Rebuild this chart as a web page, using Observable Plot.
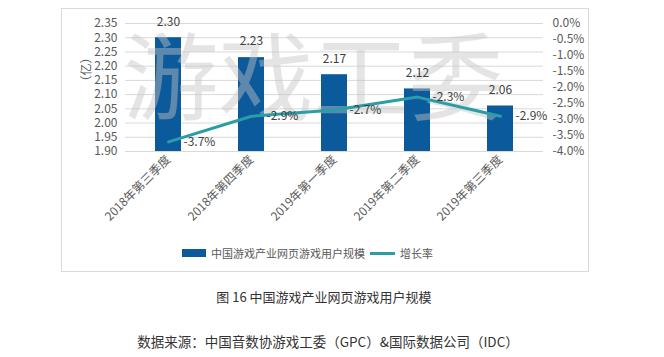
<!DOCTYPE html>
<html>
<head>
<meta charset="utf-8">
<script src="https://cdn.jsdelivr.net/npm/d3@7"></script>
<script src="https://cdn.jsdelivr.net/npm/@observablehq/plot@0.6"></script>
<style>
  html, body { margin: 0; padding: 0; background: #fff; }
  body { width: 664px; height: 357px; position: relative; overflow: hidden; font-family: "Noto Sans CJK SC", "Noto Sans", sans-serif; }
  #box { position: absolute; left: 61px; top: 8px; width: 528px; height: 264px; border: 1px solid #d9d9d9; box-sizing: border-box; }
  #chart { position: absolute; left: 0; top: 0; }
  #legend { position: absolute; left: 182px; top: 245px; display: flex; align-items: center; font-size: 11px; color: #595959; white-space: nowrap; }
  .sw-bar { display: inline-block; width: 24px; height: 8px; background: #0b5a9c; margin-right: 5px; }
  .sw-line { display: inline-block; width: 25px; height: 3px; background: #2a9da6; margin: 0 5px 0 5px; }
  #caption { position: absolute; left: 0; width: 664px; top: 287px; text-align: center; font-size: 13px; color: #333; padding-right: 16px; box-sizing: border-box; }
  #source { position: absolute; left: 0; width: 664px; top: 331px; text-align: center; font-size: 13.5px; color: #333; padding-right: 8px; box-sizing: border-box; }
</style>
</head>
<body>
<div id="box"></div>
<div id="chart"></div>
<div id="legend"></div>
<div id="caption"></div>
<div id="source"></div>
<script>
const categories = ["2018年第三季度", "2018年第四季度", "2019年第一季度", "2019年第二季度", "2019年第三季度"];
const users = [2.30, 2.23, 2.17, 2.12, 2.06];
const growth = [-3.7, -2.9, -2.7, -2.3, -2.9];
const leftTicks = [1.90, 1.95, 2.00, 2.05, 2.10, 2.15, 2.20, 2.25, 2.30, 2.35];
const rightTicks = [0.0, -0.5, -1.0, -1.5, -2.0, -2.5, -3.0, -3.5, -4.0];
const seriesNames = ["中国游戏产业网页游戏用户规模", "增长率"];
const unitLabel = "（亿）";
const watermark = "游戏工委";
const captionText = "图 16 中国游戏产业网页游戏用户规模";
const sourceText = "数据来源：中国音数协游戏工委（GPC）&国际数据公司（IDC）";

const yMin = 1.90, yMax = 2.35, pMin = -4.0, pMax = 0.0;
const pToY = p => yMin + (p - pMin) / (pMax - pMin) * (yMax - yMin);

const rows = categories.map((c, i) => ({cat: c, users: users[i], growth: growth[i], gy: pToY(growth[i])}));

const font = '"Noto Sans CJK SC", "Noto Sans", sans-serif';

const chart = Plot.plot({
  width: 664,
  height: 280,
  marginLeft: 125,
  marginRight: 121,
  marginTop: 23,
  marginBottom: 129,
  style: {fontFamily: font, fontSize: "12px", color: "#595959", background: "transparent"},
  x: {domain: categories, paddingInner: 0.69, paddingOuter: 0.345},
  y: {domain: [yMin, yMax]},
  marks: [
    Plot.gridY(leftTicks, {stroke: "#d9d9d9", strokeOpacity: 1}),
    Plot.axisY(leftTicks, {anchor: "left", tickSize: 0, tickPadding: 8, tickFormat: d => d.toFixed(2), label: null, fill: "#595959", fontSize: 12}),
    Plot.axisY(rightTicks.map(pToY), {anchor: "right", tickSize: 0, tickPadding: 9, textAnchor: "start",
      tickFormat: (d, i) => rightTicks[i].toFixed(1) + "%", label: null, fill: "#595959", fontSize: 12}),
    Plot.axisX({tickSize: 0, tickPadding: 6, tickRotate: -45, label: null, fill: "#595959", fontSize: 12}),
    Plot.text([unitLabel], {frameAnchor: "left", dx: -38, rotate: -90, fill: "#595959", fontSize: 12}),
    Plot.barY(rows, {x: "cat", y1: yMin, y2: "users", fill: "#0b5a9c"}),
    Plot.text([watermark], {frameAnchor: "middle", dx: -21, dy: -5, fontSize: 95, fill: "#c4c4c4", fillOpacity: 0.45, fontWeight: "normal"}),
    Plot.line(rows, {x: "cat", y: "gy", stroke: "#2a9da6", strokeWidth: 3}),
    Plot.text(rows, {x: "cat", y: "users", text: d => d.users.toFixed(2), dy: -16, fill: "#404040", fontSize: 12}),
    Plot.text(rows, {x: "cat", y: "gy", text: d => d.growth.toFixed(1) + "%", dx: 15, textAnchor: "start", fill: "#404040", fontSize: 12})
  ]
});
document.getElementById("chart").appendChild(chart);

document.getElementById("legend").innerHTML =
  `<span class="sw-bar"></span><span>${seriesNames[0]}</span><span class="sw-line"></span><span>${seriesNames[1]}</span>`;
document.getElementById("caption").textContent = captionText;
document.getElementById("source").textContent = sourceText;
</script>
</body>
</html>
